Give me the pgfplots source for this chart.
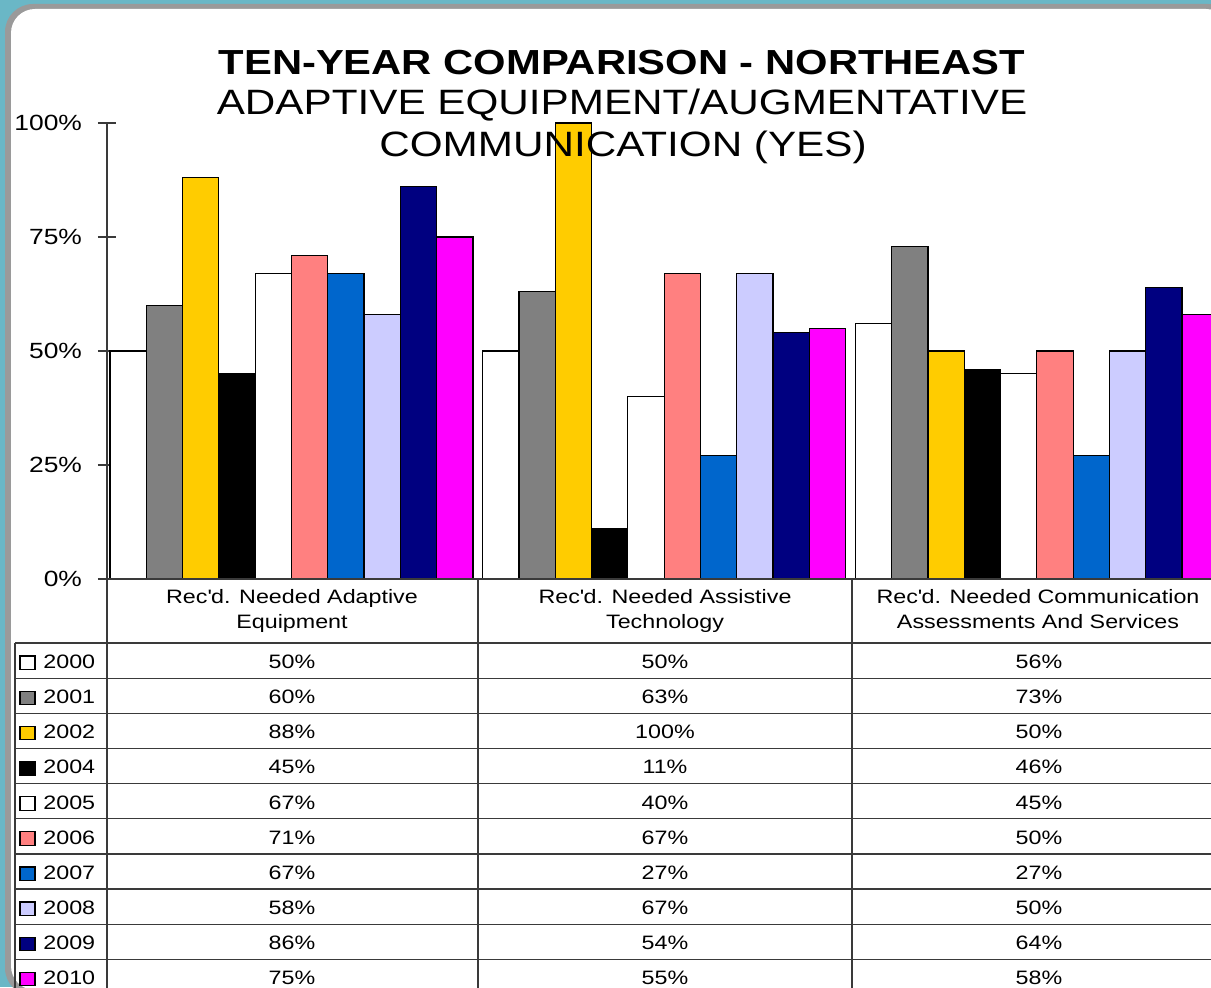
\documentclass[border=0pt]{standalone}
\usepackage{pgfplots}
\pgfplotsset{compat=1.18}
\usepackage{pgfplotstable}
\usepackage{fontspec}
\setmainfont{Liberation Sans}[FakeStretch=1.2]
\definecolor{bgteal}{HTML}{6AB7C6}
\definecolor{frgray}{HTML}{9A9A9A}
\definecolor{cgray}{HTML}{808080}
\definecolor{cyellow}{HTML}{FFCC00}
\definecolor{cpink}{HTML}{FF8080}
\definecolor{cblue}{HTML}{0066CC}
\definecolor{clav}{HTML}{CCCCFF}
\definecolor{cnavy}{HTML}{000080}
\definecolor{cmag}{HTML}{FF00FF}
\definecolor{tline}{HTML}{3A3A3A}
\pgfplotstableread{
g y2000 y2001 y2002 y2004 y2005 y2006 y2007 y2008 y2009 y2010
0 50 60 88 45 67 71 67 58 86 75
1 50 63 100 11 40 67 27 67 54 55
2 56 73 50 46 45 50 27 50 64 58
}\data
\newcommand\tabfont{\fontsize{9.7}{11}\selectfont}
\begin{document}
\begin{tikzpicture}[x=0.5pt,y=0.5pt]
\useasboundingbox (0,0) rectangle (1211,987);
\clip (0,0) rectangle (1211,987);
\fill[bgteal] (0,0) rectangle (1211,987);
\fill[frgray, rounded corners=14pt] (5,-9) rectangle (1236,983);
\fill[white, rounded corners=12pt] (11,-3) rectangle (1230,978);
\begin{axis}[
  at={(53.5pt,204pt)}, anchor=south west,
  scale only axis, width=559pt, height=228pt,
  xmin=-0.495, xmax=2.505, ymin=0, ymax=100,
  axis lines*=left, axis line style={draw=tline, line width=0.6pt},
  xtick=\empty,
  ytick={0,25,50,75,100},
  tick align=center, major tick length=9pt,
  tick style={draw=tline, line width=0.6pt},
  /pgf/number format/assume math mode=true,
  yticklabel={\pgfmathprintnumber{\tick}\%},
  yticklabel style={font=\fontsize{11}{13}\selectfont, xshift=-4.5pt},
  ybar=0pt, bar width=18.15pt,
  clip=false,
  every axis plot/.append style={draw=black, line width=0.6pt},
]
\addplot[fill=white] table[x=g,y=y2000]{\data};
\addplot[fill=cgray] table[x=g,y=y2001]{\data};
\addplot[fill=cyellow] table[x=g,y=y2002]{\data};
\addplot[fill=black] table[x=g,y=y2004]{\data};
\addplot[fill=white] table[x=g,y=y2005]{\data};
\addplot[fill=cpink] table[x=g,y=y2006]{\data};
\addplot[fill=cblue] table[x=g,y=y2007]{\data};
\addplot[fill=clav] table[x=g,y=y2008]{\data};
\addplot[fill=cnavy] table[x=g,y=y2009]{\data};
\addplot[fill=cmag] table[x=g,y=y2010]{\data};
\end{axis}
% titles (drawn over the bars, as in the reference)
\node[anchor=base, inner sep=0pt, font=\fontsize{17.4}{20}\selectfont\bfseries] at (622,912) {TEN-YEAR COMPARISON - NORTHEAST};
\node[anchor=base, inner sep=0pt, font=\fontsize{17.6}{20}\selectfont] at (622,872) {ADAPTIVE EQUIPMENT/AUGMENTATIVE};
\node[anchor=base, inner sep=0pt, font=\fontsize{17.6}{20}\selectfont] at (623,830) {COMMUNICATION (YES)};
% data table lines
\begin{scope}[draw=tline, line width=0.6pt]
\draw (107,408) -- (1240,408);
\foreach \i in {0,...,10} {
  \draw (15,{987-643-35.15*\i}) -- (1240,{987-643-35.15*\i});
}
\draw (15,344) -- (15,-20);
\draw (107,408) -- (107,-20);
\draw (478,408) -- (478,-20);
\draw (852,408) -- (852,-20);
\draw (1226,408) -- (1226,-20);
\end{scope}
% category labels
\foreach \cx/\la/\lb in {292/{Rec\textquotesingle d. Needed Adaptive}/{Equipment}, 665/{Rec\textquotesingle d. Needed Assistive}/{Technology}, 1038/{Rec\textquotesingle d. Needed Communication}/{Assessments And Services}} {
  \node[anchor=base, inner sep=0pt, font=\tabfont] at (\cx,384) {\la};
  \node[anchor=base, inner sep=0pt, font=\tabfont] at (\cx,358) {\lb};
}
% table rows
\foreach \yr/\a/\b/\c/\col [count=\i from 0] in {2000/50/50/56/white, 2001/60/63/73/cgray, 2002/88/100/50/cyellow, 2004/45/11/46/black, 2005/67/40/45/white, 2006/71/67/50/cpink, 2007/67/27/27/cblue, 2008/58/67/50/clav, 2009/86/54/64/cnavy, 2010/75/55/58/cmag} {
  \pgfmathsetmacro\rb{987-643-35.15*\i-25.5}
  \pgfmathsetmacro\kt{987-643-35.15*\i-13}
  \filldraw[fill=\col, draw=black, line width=0.6pt] (20,\kt) rectangle (35,\kt-13.5);
  \node[anchor=base west, inner sep=0pt, font=\tabfont] at (43,\rb) {\yr};
  \node[anchor=base, inner sep=0pt, font=\tabfont] at (292,\rb) {\a\%};
  \node[anchor=base, inner sep=0pt, font=\tabfont] at (665,\rb) {\b\%};
  \node[anchor=base, inner sep=0pt, font=\tabfont] at (1039,\rb) {\c\%};
}
\end{tikzpicture}
\end{document}
